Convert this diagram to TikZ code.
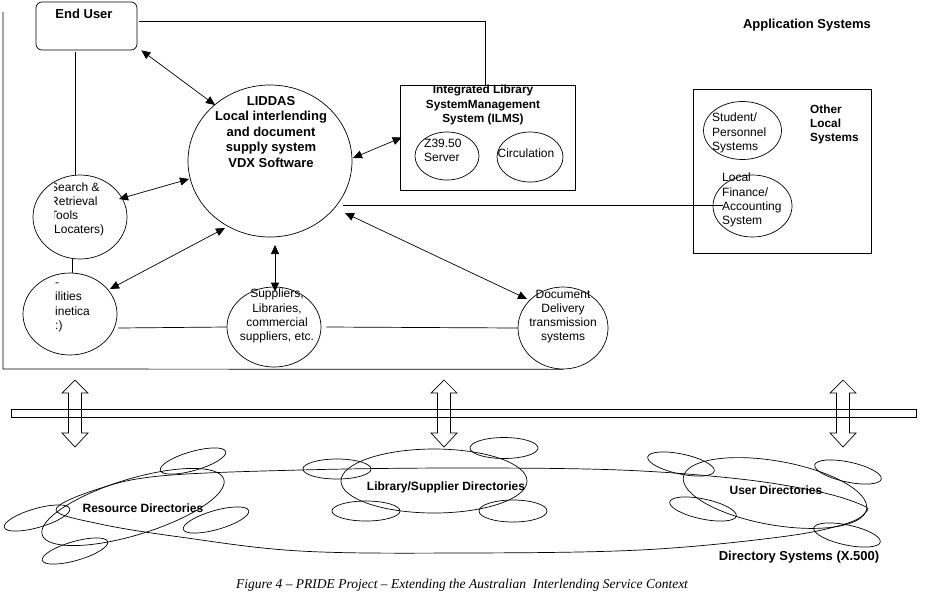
\documentclass[tikz,border=0pt]{standalone}
\usepackage{fontspec}
\setmainfont{Liberation Sans}
\newfontfamily\capfont{Liberation Serif}
\usetikzlibrary{shapes.geometric,arrows.meta,calc}
\begin{document}
\begin{tikzpicture}[x=1pt,y=-1pt]
\tikzset{
 ln/.style={line width=0.7pt},
 ell/.style={draw, ellipse, inner sep=0pt, line width=0.7pt},
 lbl/.style={inner sep=0pt, font=\fontsize{12}{14.2}\selectfont},
 blbl/.style={inner sep=0pt, font=\bfseries\fontsize{13}{15.5}\selectfont},
 mlbl/.style={inner sep=0pt, font=\bfseries\fontsize{11.8}{14.2}\selectfont},
 dlbl/.style={inner sep=0pt, font=\bfseries\fontsize{12}{14}\selectfont},
 dbl/.style={line width=0.7pt, {Triangle[length=9pt,width=8pt]}-{Triangle[length=9pt,width=8pt]}},
 sat/.style={line width=0.7pt}
}
\useasboundingbox (0,0) rectangle (936,603);
\fill[white] (0,0) rectangle (936,603);

% ---------- upper part: nodes ----------
\node[draw, ln, rounded corners=6pt, minimum width=101pt, minimum height=48pt, inner sep=0pt] (eu) at (86.5,26) {};
\node[blbl] (eutxt) at (84,14) {End User};
\node[blbl] (appsys) at (807,25) {Application Systems};

\node[ell, minimum width=164pt, minimum height=152pt] (lid) at (270,161) {};
\node[blbl, align=center] (lidtxt) at (271,132) {LIDDAS\\Local interlending\\and document\\supply system\\VDX Software};

\node[ell, minimum width=94pt, minimum height=84pt] (srch) at (80,217) {};
\begin{scope}
 \clip (54,172) rectangle (130,262);
 \node[lbl, align=left, anchor=west] (srchtxt) at (50,209.5) {Search \&\\Retrieval\\Tools\\(Locaters)};
\end{scope}

\node[ell, minimum width=94pt, minimum height=82pt] (ll) at (70,314) {};
\node[lbl, align=left, anchor=west] (lltxt) at (55,307.5) {-\\ilities\\inetica\\:)};

\node[ell, minimum width=94pt, minimum height=80pt] (sup) at (274,327) {};
\node[lbl, align=center] (suptxt) at (277,316) {Suppliers,\\Libraries,\\commercial\\suppliers, etc.};

\node[ell, minimum width=90pt, minimum height=82pt] (doc) at (563,328) {};
\node[lbl, align=center] (doctxt) at (563,316.5) {Document\\Delivery\\transmission\\systems};

\node[draw, ln, minimum width=175pt, minimum height=105pt, inner sep=0pt] (ilms) at (487.5,137.5) {};
\node[mlbl, align=center] (ilmstxt) at (483,105) {Integrated Library\\SystemManagement\\System (ILMS)};
\node[ell, minimum width=64pt, minimum height=48pt] (z39) at (447,156) {};
\node[lbl, align=left, anchor=west] (z39txt) at (424,150.5) {Z39.50\\Server};
\node[ell, minimum width=66pt, minimum height=50pt] (circ) at (530,157) {};
\node[lbl] (circtxt) at (526,153) {Circulation};

\node[draw, ln, minimum width=178pt, minimum height=164pt, inner sep=0pt] (other) at (782,171) {};
\node[mlbl, align=left, anchor=west] (othertxt) at (810,124.5) {Other\\Local\\Systems};
\node[ell, minimum width=78pt, minimum height=58pt] (stu) at (742.5,130.5) {};
\node[lbl, align=left, anchor=west] (stutxt) at (712,133) {Student/\\Personnel\\Systems};
\node[ell, minimum width=79pt, minimum height=62pt] (fin) at (752.5,206) {};
\node[lbl, align=left, anchor=west] (fintxt) at (722,200) {Local\\Finance/\\Accounting\\System};

% ---------- upper part: connectors ----------
\draw[ln] (3,12) -- (3,369) -- (doc.south);
\draw[ln] ($(eu.east)+(2,-5)$) -| ($(ilms.north)+(-2.5,0)$);
\draw[ln] ($(eu.south)+(-11.5,2)$) -- ($(srch.north)+(-5,0)$);
\draw[ln] ($(srch.south)+(-8,0)$) -- ($(ll.north)+(2,0)$);
\draw[ln] ($(ll.east)+(1,14)$) -- (sup.west);
\draw[ln] ($(sup.east)+(5,0)$) -- (doc.west);
\draw[ln] ($(lid)+(73,44)$) -- ($(fin.west)+(10,-1)$);

\draw[dbl] ($(eu.south east)+(4,0)$) -- ($(lid)+(-55,-56)$);
\draw[dbl] ($(srch)+(39,-18)$) -- ($(lid)+(-81,18)$);
\draw[dbl] ($(lid)+(-45,67)$) -- ($(ll)+(40,-25)$);
\draw[dbl] ($(lid)+(5,84)$) -- ($(sup.north)+(1,5)$);
\draw[dbl] ($(lid)+(83,-3)$) -- ($(ilms.west)+(2,0)$);
\draw[dbl] ($(lid)+(75,52)$) -- ($(doc)+(-36,-29)$);

% ---------- bus and hollow double arrows ----------
\draw[ln] (11,409) rectangle (916,417);
\foreach \cx in {75,444,843}
  \draw[ln] (\cx,380) -- ++(13,13) -- ++(-6.5,0) -- ++(0,40) -- ++(6.5,0) -- (\cx,447)
     -- ++(-13,-14) -- ++(6.5,0) -- ++(0,-40) -- ++(-6.5,0) -- cycle;

% ---------- directory systems ----------
\draw[ln] plot[smooth cycle, tension=0.6] coordinates {(56,510) (95,490) (160,476) (300,470) (460,468) (620,470) (740,479) (820,492) (862,505) (866,512) (845,524) (780,537) (640,550) (460,553) (300,551) (180,537) (100,524)};

% Resource directories
\draw[ln, shift={(133,507)}, rotate=17] (0,0) ellipse [x radius=95pt, y radius=28pt];
\foreach \p in {(193,461),(37,518),(216,520),(75,551)}
  \draw[sat, shift={\p}, rotate=16] (0,0) ellipse [x radius=34pt, y radius=9.5pt];
\node[dlbl] (restxt) at (143,508) {Resource Directories};

% Library / supplier directories
\draw[ln] (434,481) ellipse [x radius=93pt, y radius=32pt];
\draw[sat] (337,469) ellipse [x radius=34pt, y radius=10pt];
\draw[sat] (504,448) ellipse [x radius=34pt, y radius=10.5pt];
\draw[sat] (366,511) ellipse [x radius=34pt, y radius=10pt];
\draw[sat] (513,511) ellipse [x radius=34pt, y radius=11pt];
\node[dlbl] (libtxt) at (446,487) {Library/Supplier Directories};

% User directories
\draw[ln, shift={(775,493)}, rotate=-10] (0,0) ellipse [x radius=93pt, y radius=32pt];
\foreach \p in {(681,464),(848,472),(703,509),(847,535)}
  \draw[sat, shift={\p}, rotate=-12] (0,0) ellipse [x radius=34pt, y radius=10pt];
\node[dlbl] (usrtxt) at (776,490) {User Directories};

\node[blbl] (dirsys) at (799,557) {Directory Systems (X.500)};
\node[inner sep=0pt, font=\capfont\itshape\fontsize{13.5}{15}\selectfont] (caption) at (462,585) {Figure 4 – PRIDE Project – Extending the Australian\ \ Interlending Service Context};
\end{tikzpicture}
\end{document}
